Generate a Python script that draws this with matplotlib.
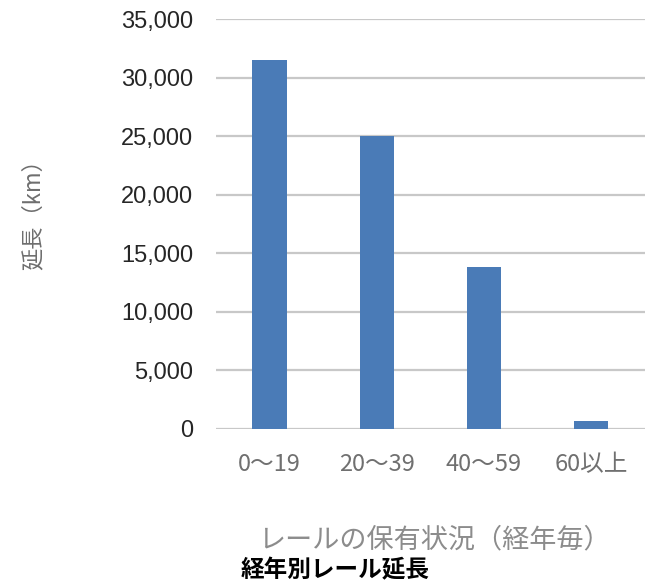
import matplotlib.pyplot as plt
import numpy as np

plt.rcParams['font.family'] = ['Noto Sans CJK JP', 'DejaVu Sans']

# 経年毎のレール延長 (km)
categories = ['0～19', '20～39', '40～59', '60以上']
lengths = [31500, 25000, 13800, 700]
yticks = [0, 5000, 10000, 15000, 20000, 25000, 30000, 35000]

fig = plt.figure(figsize=(6.52, 5.86), dpi=100)
ax = fig.add_axes([0.331, 0.268, 0.658, 0.699])

x = np.arange(len(categories))
ax.bar(x, lengths, width=0.32, color='#4a7bb7', zorder=3)

ax.set_xlim(-0.5, len(categories) - 0.5)
ax.set_ylim(0, 35000)
ax.set_yticks(yticks)
ax.set_yticklabels(['{:,}'.format(v) for v in yticks],
                   family='Liberation Sans', fontsize=17, color='#262626')
ax.set_xticks(x)
ax.set_xticklabels(categories, fontsize=17, color='#707070')
ax.tick_params(axis='y', length=0, pad=16.5)
ax.tick_params(axis='x', length=0, pad=17)

ax.grid(axis='y', color='#c8c8c8', linewidth=1.6, zorder=0)
for s in ax.spines.values():
    s.set_visible(False)

ax.set_ylabel('延長（km）', fontsize=16, color='#6e6e6e')
ax.yaxis.set_label_coords(-0.425, 0.537)
ax.yaxis.label.set_va('center')
ax.set_xlabel('レールの保有状況（経年毎）', fontsize=19.5, color='#8c8c8c')
ax.xaxis.set_label_coords(0.51, -0.271)
ax.xaxis.label.set_va('center')

fig.text(0.514, 0.027, '経年別レール延長', fontsize=17, fontweight='bold',
         ha='center', va='center', color='black')

fig.savefig('out.png', dpi=100)
